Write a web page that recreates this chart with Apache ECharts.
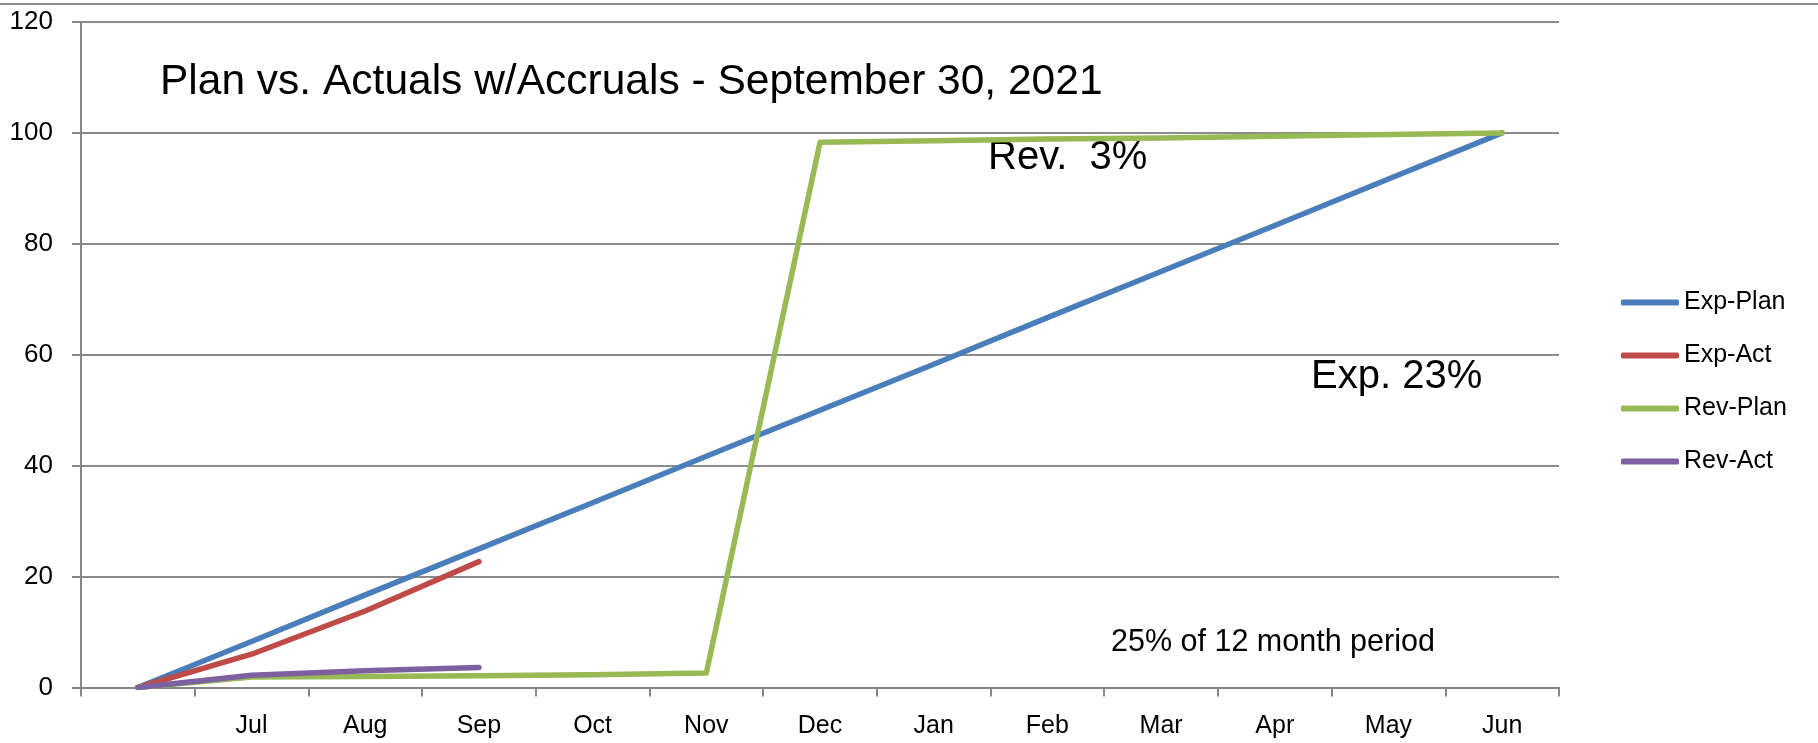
<!DOCTYPE html>
<html>
  <head>
    <meta charset="utf-8" />
    <title>Plan vs. Actuals w/Accruals</title>
    <style>
      html, body { margin: 0; padding: 0; background: #fff; }
      #main { width: 1818px; height: 743px; }
    </style>
  </head>
  <body>
    <div id="main"></div>
    <script type="text/javascript" src="https://cdn.jsdelivr.net/npm/echarts@6/dist/echarts.min.js"></script>
    <script type="text/javascript">
      // data
      var months = ["", "Jul", "Aug", "Sep", "Oct", "Nov", "Dec", "Jan", "Feb", "Mar", "Apr", "May", "Jun"];
      var expPlan = [0, 8.3, 16.7, 25, 33.3, 41.7, 50, 58.3, 66.7, 75, 83.3, 91.7, 100];
      var expAct = [0, 6, 13.8, 22.7, null, null, null, null, null, null, null, null, null];
      var revPlan = [0, 1.9, 2.0, 2.1, 2.3, 2.6, 98.3, 98.6, 98.9, 99.1, 99.4, 99.7, 100];
      var revAct = [0, 2.2, 3.0, 3.6, null, null, null, null, null, null, null, null, null];
      var seriesNames = ["Exp-Plan", "Exp-Act", "Rev-Plan", "Rev-Act"];
      var seriesColors = ["#4a7ebb", "#be4b48", "#98b954", "#7d60a0"];

      var font = "Liberation Sans";
      var dom = document.getElementById("main");
      var myChart = echarts.init(dom);

      function lineSeries(i, values) {
        return {
          name: seriesNames[i],
          type: "line",
          data: values,
          symbol: "none",
          animation: false,
          connectNulls: false,
          lineStyle: { color: seriesColors[i], width: 5.5, cap: "round", join: "round" },
          itemStyle: { color: seriesColors[i] },
        };
      }

      var option = {
        animation: false,
        title: {
          text: "Plan vs. Actuals w/Accruals - September 30, 2021",
          left: 155,
          top: 56,
          textStyle: { fontFamily: font, fontSize: 42.5, fontWeight: "normal", color: "#000" },
        },
        legend: {
          data: seriesNames,
          orient: "vertical",
          left: 1616,
          top: 285,
          icon: "roundRect",
          itemWidth: 58,
          itemHeight: 6,
          itemGap: 28,
          textStyle: { fontFamily: font, fontSize: 25, color: "#000" },
        },
        grid: { left: 81, right: 259, top: 22, bottom: 55.5 },
        xAxis: {
          type: "category",
          data: months,
          boundaryGap: true,
          axisLine: { lineStyle: { color: "#868686", width: 2 } },
          axisTick: { show: true, length: 9, interval: 0, lineStyle: { color: "#868686", width: 2 } },
          axisLabel: { interval: 0, margin: 26, fontFamily: font, fontSize: 25, color: "#000" },
        },
        yAxis: {
          type: "value",
          min: 0,
          max: 120,
          interval: 20,
          axisLine: { show: true, lineStyle: { color: "#868686", width: 2 } },
          axisTick: { show: true, length: 9, lineStyle: { color: "#868686", width: 2 } },
          axisLabel: { margin: 28, fontFamily: font, fontSize: 26, color: "#000" },
          splitLine: { show: true, lineStyle: { color: "#8c8c8c", width: 2 } },
        },
        graphic: [
          {
            type: "line",
            shape: { x1: 0, y1: 4, x2: 1818, y2: 4 },
            style: { stroke: "#8c8c8c", lineWidth: 2 },
          },
          {
            type: "text",
            left: 988,
            top: 138,
            style: { text: "Rev.  3%", fontFamily: font, fontSize: 40, fill: "#000" },
          },
          {
            type: "text",
            left: 1311,
            top: 357,
            style: { text: "Exp. 23%", fontFamily: font, fontSize: 40, fill: "#000" },
          },
          {
            type: "text",
            left: 1111,
            top: 627,
            style: { text: "25% of 12 month period", fontFamily: font, fontSize: 30.5, fill: "#000" },
          },
        ],
        series: [
          lineSeries(0, expPlan),
          lineSeries(1, expAct),
          lineSeries(2, revPlan),
          lineSeries(3, revAct),
        ],
      };

      myChart.setOption(option);

      window.addEventListener("resize", function () {
        myChart.resize();
      });
    </script>
  </body>
</html>
